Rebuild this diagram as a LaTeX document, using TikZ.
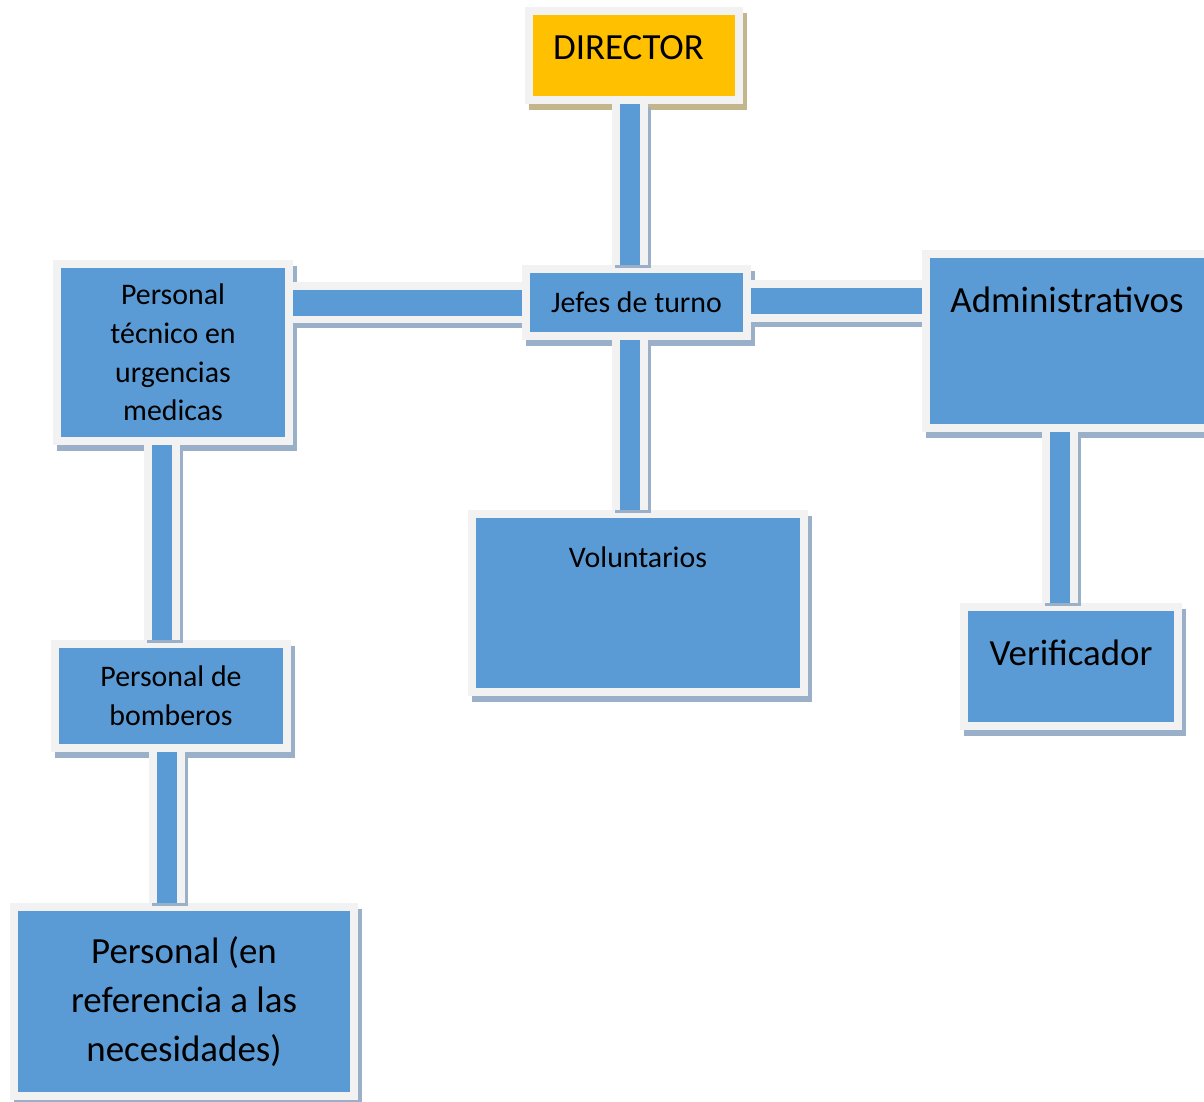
\documentclass[tikz,border=0pt]{standalone}
\usepackage{fontspec}
\setmainfont{Carlito}
\usepackage{tikz}

\definecolor{boxblue}{HTML}{5B9BD5}
\definecolor{boxwhite}{HTML}{F2F2F2}
\definecolor{boxshadow}{HTML}{9AAFC8}
\definecolor{dirgold}{HTML}{FFC000}
\definecolor{dirshadow}{HTML}{C4B68C}

\begin{document}
\begin{tikzpicture}[
      x=0.02cm, y=-0.02cm,
      box/.style={rectangle,fill=boxblue,draw=boxwhite,line width=0.16cm,inner sep=0pt,align=center,
            preaction={fill=boxshadow,draw=boxshadow,transform canvas={shift={(4,6)}}}},
      mid/.style={font=\fontsize{17}{22}\selectfont},
      big/.style={font=\fontsize{21}{27.8}\selectfont},
      bar/.style={draw=boxblue,line width=0.4cm,
            preaction={draw=boxshadow,line width=0.72cm,transform canvas={shift={(3,3)}}},
            preaction={draw=boxwhite,line width=0.72cm}},
      hbar/.style={draw=boxblue,line width=0.52cm,
            preaction={draw=boxshadow,line width=0.84cm,transform canvas={shift={(0,5)}}},
            preaction={draw=boxwhite,line width=0.84cm}}
]
      \useasboundingbox (0,0) rectangle (1204,1102);
      \node[box,fill=dirgold,
            preaction={fill=dirshadow,draw=dirshadow,transform canvas={shift={(4,6)}}},
            minimum width=4.20cm,minimum height=1.78cm,
            label={[big,xshift=-0.11cm,yshift=0.15cm]center:DIRECTOR}] at (634,55.5) (dir) {};
      \node[box,mid,minimum width=4.42cm,minimum height=1.34cm] at (636.5,302.5) (jefes) {Jefes de turno};
      \node[box,mid,minimum width=4.64cm,minimum height=3.54cm] at (173,352.5) (tec)
            {Personal\\técnico en\\urgencias\\medicas};
      \node[box,minimum width=5.78cm,minimum height=3.48cm,
            label={[big,xshift=-0.07cm,yshift=0.82cm]center:Administrativos}] at (1070.5,341) (adm) {};
      \node[box,minimum width=4.28cm,minimum height=2.38cm,
            label={[big,yshift=0.27cm]center:Verificador}] at (1071,666.5) (ver) {};
      \node[box,minimum width=6.64cm,minimum height=3.56cm,
            label={[mid,yshift=0.92cm]center:Voluntarios}] at (638,603) (vol) {};
      \node[box,mid,minimum width=4.64cm,minimum height=2.08cm] at (171,696) (bom) {Personal de\\bomberos};
      \node[box,big,minimum width=6.80cm,minimum height=3.78cm] at (184,1001.5) (nec)
            {Personal (en\\referencia a las\\necesidades)};
      \draw[bar] ([xshift=-0.09cm]dir.south) -- ([xshift=-0.09cm]dir.south |- jefes.north);
      \draw[bar] ([xshift=-0.13cm]jefes.south) -- ([xshift=-0.13cm]jefes.south |- vol.north);
      \draw[bar] ([xshift=-0.22cm]tec.south) -- ([xshift=-0.22cm]tec.south |- bom.north);
      \draw[bar] ([xshift=-0.08cm]bom.south) -- ([xshift=-0.08cm]bom.south |- nec.north);
      \draw[bar] ([xshift=-0.21cm]adm.south) -- ([xshift=-0.21cm]adm.south |- ver.north);
      \draw[hbar] (jefes.west) -- (jefes.west -| tec.east);
      \draw[hbar] ([yshift=0.03cm]jefes.east) -- ([yshift=0.03cm]jefes.east -| adm.west);
\end{tikzpicture}
\end{document}
